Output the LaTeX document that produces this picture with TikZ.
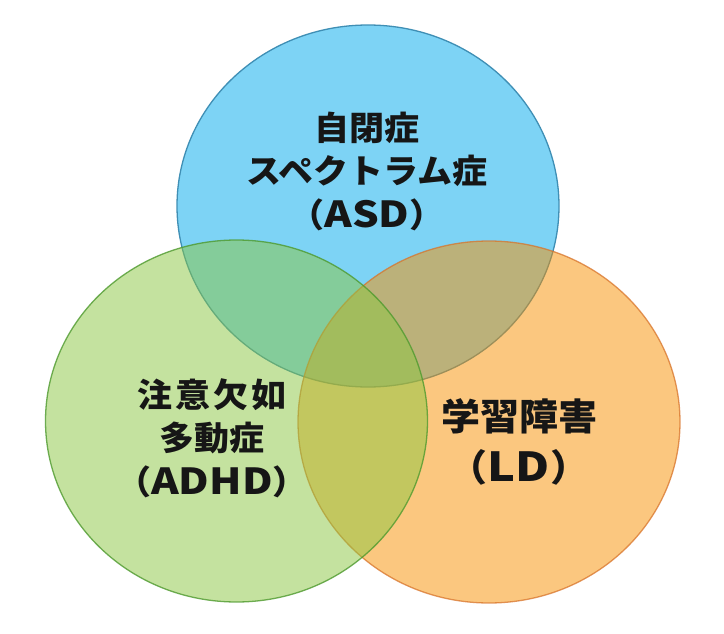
\documentclass[tikz,border=0pt]{standalone}
\usepackage{fontspec}
\newfontfamily\jp{Noto Sans CJK JP}
\definecolor{bluefill}{HTML}{7DD3F5}
\definecolor{blueline}{HTML}{3F8FB5}
\definecolor{greenfill}{HTML}{8BC741}
\definecolor{greenline}{HTML}{4E9A2E}
\definecolor{orangefill}{HTML}{F99000}
\definecolor{orangeline}{HTML}{D8742A}
\definecolor{labeltext}{HTML}{161616}
\newcommand{\widelat}[1]{\scalebox{1.2}[1.08]{#1}}
\tikzset{
  setcircle/.style={line width=1.3pt},
  setlabel/.style={align=center, text=labeltext, inner sep=0pt,
    yscale=0.95, transform shape},
}
\begin{document}
\begin{tikzpicture}[x=1pt,y=-1pt]
\useasboundingbox[fill=white] (0,0) rectangle (724,634);
% ASD (blue)
\draw[setcircle, fill=bluefill, draw=blueline] (368,206) ellipse [x radius=191pt, y radius=181pt];
% LD (orange)
\draw[setcircle, fill=orangefill, fill opacity=0.5, draw=orangeline, draw opacity=0.75] (489,422) ellipse [x radius=191pt, y radius=181pt];
% ADHD (green)
\draw[setcircle, fill=greenfill, fill opacity=0.5, draw=greenline, draw opacity=0.8] (236.5,421) ellipse [x radius=191pt, y radius=181pt];
% labels
\node[setlabel, font={\jp\bfseries\fontsize{35}{45.8}\selectfont}] (asd) at (367,171)
  {自閉症\\スペクトラム症\\（\widelat{ASD}）};
\node[setlabel, font={\jp\bfseries\fontsize{35}{45.8}\selectfont}] (adhd) at (212,438)
  {注\hspace{3pt}意\hspace{3pt}欠\hspace{3pt}如\\多動症\\（\widelat{ADHD}）};
\node[setlabel, font={\jp\bfseries\fontsize{39}{53.7}\selectfont}] (ld) at (519,441.5)
  {学習障害\\（\widelat{LD}）};
\end{tikzpicture}
\end{document}
